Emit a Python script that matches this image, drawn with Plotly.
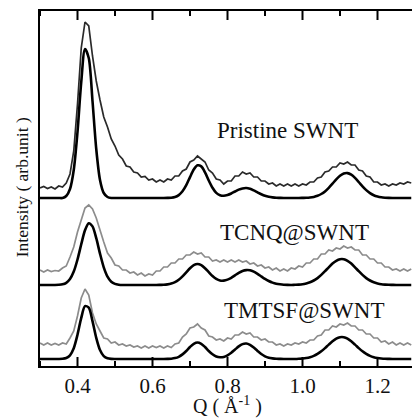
import numpy as np
import plotly.graph_objects as go

# Q grid (Å^-1), sampling of the curves
q = np.round(np.arange(0.30, 1.2951, 0.01), 2)

# Measured curves (arbitrary units, vertically offset)
pristine_meas = [178, 179.5, 177.5, 179, 177, 180, 179, 183, 192, 215,
                 262, 318, 344, 340, 310, 285, 266, 249, 239, 227,
                 220, 211, 207, 200, 199, 194, 193, 189, 189.5, 186,
                 187, 184, 186, 184, 187, 186, 190, 190, 195, 197,
                 204, 206, 210, 207, 204, 196, 193, 187, 186, 182,
                 185, 185, 190, 190, 194, 192, 193, 189, 189, 185,
                 185, 182, 183, 180, 182, 180, 182, 180, 182, 180,
                 182, 181, 184, 184, 188, 189, 194, 195, 199, 199,
                 203, 202, 204, 201, 201, 196, 195, 190, 189, 184,
                 184, 181, 182, 180, 182, 181, 183, 182, 184, 183]

tcnq_meas = [96, 94, 96, 94.5, 95.5, 95, 98, 100, 109, 119,
             134, 145, 158, 161, 157, 148, 135, 124, 113, 108,
             101, 100, 96, 96, 93, 94, 91, 93, 90, 92,
             91, 95, 95, 99, 99, 103, 103, 107, 107, 111,
             111, 114, 112, 113, 109, 109, 105, 106, 104, 106,
             104, 106, 104, 106, 104, 105, 102, 103, 100, 101,
             98, 99, 96, 98, 95, 97, 95, 98, 97, 100,
             99, 103, 103, 107, 107, 112, 112, 116, 115, 118,
             117, 120, 118, 119, 116, 116, 111, 111, 107, 107,
             103, 103, 99, 99, 96, 97, 95, 97, 95, 97]

tmtsf_meas = [23, 21, 23, 21, 22.5, 21, 23, 22, 28, 35,
              50, 68, 77, 71, 53, 42, 35, 28, 27, 23,
              24, 21, 22, 20, 21, 19, 20, 18, 20, 18,
              20, 18.5, 20, 18, 20, 18.5, 22, 23, 29, 32,
              38, 39, 42, 38, 36, 30, 29, 26, 27, 25,
              28, 27, 31, 31, 34, 32, 33, 29, 29, 26,
              27, 24, 24, 21, 22, 20, 22, 21, 23, 22,
              24, 23, 26, 26, 30, 31, 36, 36, 40, 39,
              42, 41, 43, 40, 40, 36, 36, 32, 32, 28,
              28, 24, 25, 22, 24, 21, 23, 21, 23, 21]

# Fitted (calculated) curves
pristine_fit = ([168] * 7 +
                [170, 177, 196, 234, 284, 317, 308, 265, 217, 186, 173, 169] +
                [168] * 15 +
                [168.1, 168.3, 169, 170.9, 174.7, 180.8, 188.9, 196.5, 200.7, 199.6,
                 193.7, 185.5, 178.2, 173.1, 170.8, 170.2, 171.0, 172.5, 174.5, 176.4,
                 177.6, 178, 177.2, 175.6, 173.7, 171.8, 170.2, 169.2, 168.6, 168.2, 168.1] +
                [168] * 5 +
                [168.1, 168.2, 168.5, 169.1, 170.2, 172, 174.6, 178.2, 182.3, 186.6,
                 190.2, 192.5, 192.9, 191.3, 188.1, 184, 179.7, 175.9, 172.9, 170.8,
                 169.5, 168.7, 168.3, 168.1] +
                [168] * 6)

tcnq_fit = ([81] * 5 +
            [81.2, 81.7, 83.2, 86.9, 94.4, 106.5, 121.7, 135.7, 142.8, 139.6,
             127.8, 112.4, 98.7, 89.4, 84.3, 82.1, 81.3] +
            [81] * 10 +
            [81.1, 81.2, 81.6, 82.4, 83.8, 86.2, 89.6, 93.7, 97.8, 100.9,
             102, 100.9, 97.8, 93.9, 90, 87.1, 85.5, 85.4, 86.4, 88.2,
             90.7, 93.1, 95, 95.9, 95.7, 94.3, 92.1, 89.6, 87.1, 85,
             83.4, 82.3, 81.7, 81.3, 81.1, 81, 81.2, 81.4, 81.8, 82.6,
             83.7, 85.5, 87.9, 91.1, 94.8, 98.7, 102.4, 105.2, 106.8, 106.8,
             105.2, 102.4, 98.7, 94.8, 91.1, 87.9, 85.5, 83.7, 82.6, 81.8,
             81.4, 81.2, 81.1] +
            [81] * 5)

tmtsf_fit = ([7] * 6 +
             [7.2, 8, 10.7, 17.8, 31.3, 48.1, 59.8, 58.4, 44.9, 28.2,
              16, 9.9, 7.7, 7.1] +
             [7] * 14 +
             [7.1, 7.3, 7.9, 9.2, 11.6, 15, 19, 22.2, 23.5, 22.2,
              19, 15, 11.7, 9.5, 8.7, 9.1, 10.7, 13.2, 16.4, 19.6,
              21.9, 22.5, 21.1, 18.4, 15.1, 12, 9.7, 8.3, 7.6, 7.2, 7.1] +
             [7] * 4 +
             [7.2, 7.5, 8, 8.8, 10.1, 12.1, 14.7, 17.9, 21.4, 24.7,
              27.4, 28.8, 28.8, 27.4, 24.7, 21.4, 17.9, 14.7, 12.1, 10.1,
              8.8, 8, 7.5, 7.2, 7.1] +
             [7] * 6)

for arr in (pristine_meas, tcnq_meas, tmtsf_meas, pristine_fit, tcnq_fit, tmtsf_fit):
    assert len(arr) == len(q), len(arr)

labels = ["Pristine SWNT", "TCNQ@SWNT", "TMTSF@SWNT"]
label_q = [0.96, 0.979, 1.005]
label_y = [236, 134, 56]

tick_vals = [0.4, 0.6, 0.8, 1.0, 1.2]
tick_text = ["0.4", "0.6", "0.8", "1.0", "1.2"]
minor_vals = [0.3, 0.5, 0.7, 0.9, 1.1]

FONT = "Liberation Serif, Times New Roman, serif"
GRAY = "#8c8c8c"
DARK = "#2a2a2a"
PLOT_H = 355  # plot-area height in px (for tick lengths)

fig = go.Figure()
meas_colors = [DARK, GRAY, GRAY]
for ys, c in zip((pristine_meas, tcnq_meas, tmtsf_meas), meas_colors):
    fig.add_trace(go.Scatter(x=q, y=ys, mode="lines",
                             line=dict(color=c, width=1.7), showlegend=False,
                             hoverinfo="skip"))
for ys in (pristine_fit, tcnq_fit, tmtsf_fit):
    fig.add_trace(go.Scatter(x=q, y=ys, mode="lines",
                             line=dict(color="black", width=2.6, shape="spline", smoothing=0.8),
                             showlegend=False, hoverinfo="skip"))

# inside ticks on bottom and top edges, placed at the x-axis tick values
for vals, ln in ((tick_vals, 9), (minor_vals, 5)):
    f = ln / PLOT_H
    for v in vals:
        fig.add_shape(type="line", xref="x", yref="paper", x0=v, x1=v, y0=0, y1=f,
                      line=dict(color="black", width=2), layer="above")
        fig.add_shape(type="line", xref="x", yref="paper", x0=v, x1=v, y0=1 - f, y1=1,
                      line=dict(color="black", width=2), layer="above")

for t, xq, yv in zip(labels, label_q, label_y):
    fig.add_annotation(x=xq, y=yv, text=t, showarrow=False,
                       font=dict(family=FONT, size=23, color="#111"),
                       xanchor="center", yanchor="middle")

fig.add_annotation(x=0.8, xref="x", y=-0.111, yref="paper",
                   text="Q ( Å<sup>-1</sup> )", showarrow=False,
                   font=dict(family=FONT, size=20, color="#111"),
                   xanchor="center", yanchor="middle")
fig.add_annotation(x=-0.048, xref="paper", y=0.504, yref="paper",
                   text="Intensity ( arb.unit )", showarrow=False, textangle=-90,
                   font=dict(family=FONT, size=17.5, color="#111"),
                   xanchor="center", yanchor="middle")

fig.update_layout(
    width=412, height=419,
    margin=dict(l=40, r=0, t=11, b=53),
    plot_bgcolor="white", paper_bgcolor="white",
    font=dict(family=FONT, color="#111"),
)
fig.update_xaxes(range=[0.3, 1.292], showgrid=False, zeroline=False,
                 showline=True, linecolor="black", linewidth=2, mirror=True,
                 ticks="", tickvals=tick_vals, ticktext=tick_text,
                 tickfont=dict(family=FONT, size=21, color="#111"))
fig.update_yaxes(range=[0, 355], showgrid=False, zeroline=False,
                 showline=True, linecolor="black", linewidth=2, mirror=False,
                 showticklabels=False, ticks="")

fig.write_html("out.html", config={"displayModeBar": False},
               post_script="document.body.style.margin='0';document.body.style.overflow='hidden';")
